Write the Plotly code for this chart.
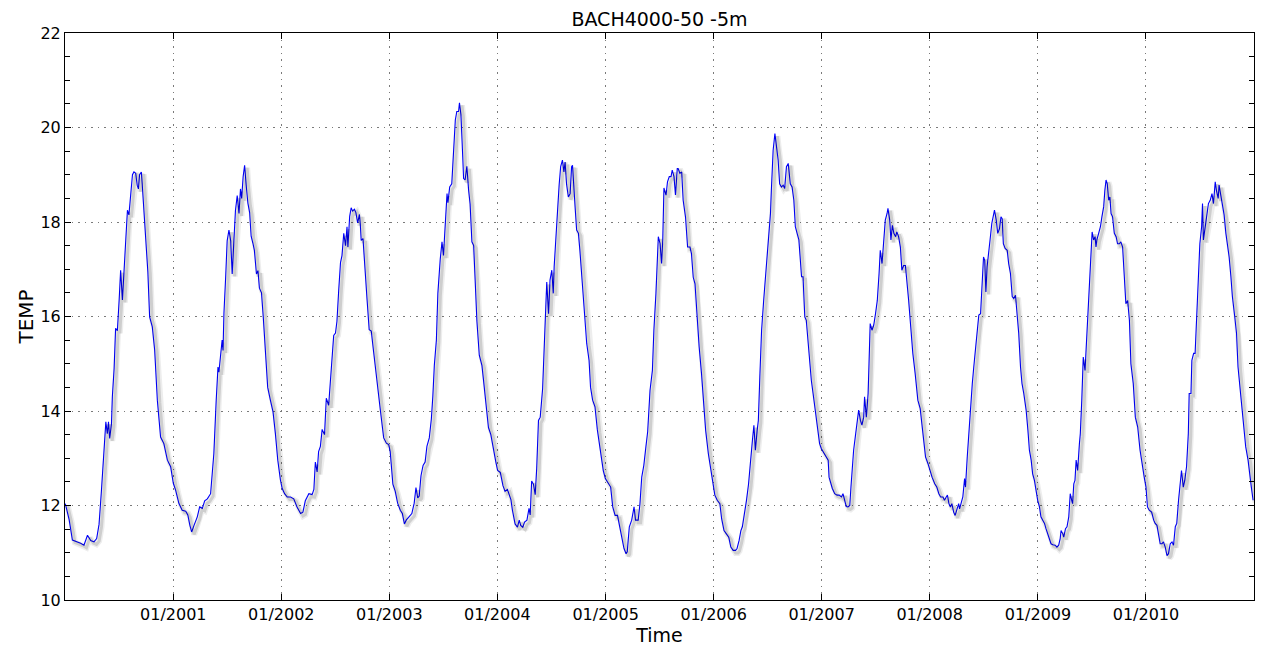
import pandas as pd
import plotly.graph_objects as go

# ---- data (days since 2000-01-01, temperature) ----
day_offset = [
    1, 14, 25, 42, 53, 64, 76, 87, 98, 107, 115, 123, 132, 138, 143, 147, 151, 157, 160, 166,
    171, 177, 183, 188, 194, 199, 205, 211, 216, 222, 228, 233, 239, 244, 248, 252, 258, 261, 267, 273,
    280, 286, 295, 303, 312, 323, 334, 346, 357, 366, 374, 385, 396, 408, 415, 422, 428, 436, 447, 455,
    464, 472, 481, 492, 498, 503, 511, 517, 520, 526, 531, 534, 537, 543, 548, 554, 560, 565, 571, 576,
    582, 588, 593, 597, 602, 607, 612, 618, 624, 629, 635, 640, 647, 652, 657, 664, 670, 678, 685, 694,
    703, 711, 719, 728, 734, 742, 751, 762, 773, 784, 796, 804, 812, 824,
    835, 841, 846, 852, 857, 863, 869, 877, 883, 891, 897, 902, 908, 914, 919, 925, 931, 936, 942, 948,
    953, 956, 962, 967, 972, 978, 983, 989, 995, 998, 1001, 1007, 1015, 1021, 1028, 1035, 1043, 1054, 1066, 1077,
    1086, 1094, 1099, 1108, 1116, 1124, 1133, 1140, 1147, 1153, 1161, 1172, 1180, 1186, 1192, 1197, 1203, 1210, 1217, 1223,
    1231, 1238, 1243, 1248, 1255, 1260, 1268, 1274, 1279, 1285, 1291, 1294, 1300, 1307, 1313, 1319, 1324, 1330, 1333, 1338,
    1343, 1347, 1352, 1358, 1364, 1369, 1375, 1381, 1386, 1392, 1400, 1409, 1414, 1423, 1431, 1439, 1448, 1456, 1462, 1471,
    1480, 1487, 1495, 1501, 1507, 1512, 1521, 1529, 1535, 1540, 1547, 1553, 1561, 1568, 1572, 1577, 1583, 1589, 1594, 1600,
    1606,
    1614, 1622, 1628, 1634, 1639, 1645, 1650, 1653, 1658, 1664, 1670, 1675, 1681, 1686, 1690, 1695, 1701, 1707, 1712, 1715,
    1718, 1724, 1729, 1735, 1740, 1746, 1752, 1757, 1763, 1771, 1776, 1783, 1791, 1799, 1808, 1819, 1826, 1836, 1844, 1851,
    1859, 1867, 1873, 1881, 1889, 1896, 1900, 1907, 1915, 1923, 1928, 1937, 1943, 1949, 1956, 1963, 1969, 1977, 1985, 1990,
    1997, 2005, 2011, 2016, 2020, 2024, 2031, 2036, 2042, 2048, 2052, 2058, 2063, 2069, 2072, 2078, 2084, 2089, 2097, 2104,
    2112, 2117, 2123, 2129, 2134, 2143, 2151, 2157, 2165, 2174, 2182, 2190, 2196, 2204, 2213, 2219, 2227, 2235, 2243, 2250,
    2258, 2266, 2271, 2278, 2284, 2289, 2295, 2303, 2310, 2316, 2323, 2328, 2333, 2339, 2343, 2348, 2354, 2361, 2367, 2374,
    2379, 2384, 2387, 2393, 2399, 2404, 2410, 2415, 2421, 2427, 2432, 2438, 2444,
    2451, 2457, 2463, 2468, 2474, 2480, 2485, 2489, 2494, 2500, 2505, 2511, 2517, 2522, 2528, 2534, 2539, 2545, 2550, 2556,
    2565, 2573, 2579, 2582, 2588, 2593, 2601, 2609, 2616, 2624, 2629, 2635, 2640, 2646, 2652, 2656, 2661, 2665, 2672, 2676,
    2682, 2688, 2693, 2699, 2702, 2708, 2714, 2717, 2721, 2727, 2733, 2739, 2745, 2751, 2755, 2761, 2766, 2772, 2778, 2781,
    2787, 2791, 2796, 2801, 2807, 2811, 2817, 2823, 2828, 2834, 2840, 2845, 2851, 2858, 2865, 2873, 2882, 2890, 2899, 2908,
    2916, 2922, 2930, 2939, 2946, 2953, 2959, 2967, 2972, 2978, 2982, 2987, 2992, 2997, 3003, 3008, 3014, 3020, 3023, 3029,
    3034, 3040, 3043, 3049, 3054, 3060, 3066, 3071, 3077, 3082, 3088, 3094, 3098, 3104, 3108, 3112, 3116, 3122, 3126, 3132,
    3137, 3141, 3147, 3152, 3158, 3163, 3167, 3171, 3177, 3184, 3189, 3195, 3201, 3206, 3212, 3217, 3223, 3229, 3234, 3240,
    3248, 3254,
    3259, 3265, 3270, 3276, 3282, 3287, 3293, 3298, 3304, 3310, 3315, 3321, 3327, 3332, 3338, 3346, 3352, 3358, 3363, 3366,
    3372, 3375, 3381, 3386, 3392, 3397, 3402, 3405, 3409, 3413, 3417, 3422, 3428, 3431, 3436, 3441, 3447, 3450, 3456, 3462,
    3467, 3471, 3476, 3481, 3484, 3487, 3493, 3499, 3504, 3510, 3514, 3518, 3522, 3527, 3531, 3535, 3540, 3546, 3552, 3557,
    3563, 3568, 3574, 3580, 3585, 3591, 3597, 3602, 3610, 3617, 3625, 3633, 3642, 3647, 3653, 3658, 3664, 3672, 3679, 3684,
    3690, 3696, 3701, 3707, 3712, 3718, 3724, 3729, 3735, 3741, 3746, 3752, 3757, 3763, 3769, 3773, 3779, 3784, 3790, 3796,
    3799, 3805, 3808, 3814, 3819, 3824, 3829, 3835, 3841, 3844, 3847, 3853, 3859, 3864, 3870, 3876, 3881, 3887, 3891, 3897,
    3900, 3906, 3912, 3917, 3923, 3929, 3934, 3940, 3945, 3953, 3959, 3964, 3973, 3979, 3985, 3990, 3998, 4004, 4009, 4015,
]

temp = [
    12.04, 11.7, 11.27, 11.23, 11.2, 11.16, 11.37, 11.26, 11.23, 11.3, 11.6, 12.3, 13.17, 13.77, 13.52, 13.77, 13.42, 13.73, 14.3, 14.9,
    15.75, 15.7, 16.35, 16.98, 16.35, 16.9, 17.6, 18.25, 18.15, 18.5, 19.0, 19.06, 19.03, 18.78, 18.7, 19.0, 19.06, 18.8, 18.26, 17.76,
    16.94, 15.99, 15.78, 15.29, 14.23, 13.45, 13.31, 12.96, 12.82, 12.47, 12.32, 12.04, 11.9, 11.88, 11.8, 11.58, 11.44, 11.58, 11.76, 11.97,
    11.94, 12.1, 12.14, 12.25, 12.67, 13.1, 14.23, 14.93, 14.82, 15.2, 15.5, 15.28, 16.06, 16.84, 17.6, 17.83, 17.6, 16.9, 17.53, 18.24,
    18.56, 18.18, 18.7, 18.5, 18.96, 19.2, 18.8, 18.4, 18.2, 17.7, 17.55, 17.4, 16.9, 16.97, 16.6, 16.5, 15.99, 15.2, 14.5, 14.23,
    13.98, 13.52, 12.96, 12.54, 12.36, 12.25, 12.18, 12.18, 12.14, 11.97, 11.83, 11.86, 12.1, 12.25,
    12.23, 12.34, 12.92, 12.71, 13.14, 13.25, 13.61, 13.5, 14.27, 14.12, 14.6, 15.18, 15.6, 15.65, 15.9, 16.56, 17.14, 17.29, 17.76, 17.5,
    17.9, 17.47, 18.12, 18.3, 18.23, 18.27, 18.2, 17.98, 18.16, 17.94, 17.61, 17.65, 17.0, 16.34, 15.72, 15.69, 15.25, 14.6, 14.0, 13.43,
    13.32, 13.29, 13.14, 12.45, 12.3, 12.05, 11.9, 11.83, 11.61, 11.69, 11.76, 11.83, 12.05, 12.38, 12.16, 12.2, 12.63, 12.85, 12.92, 13.25,
    13.43, 13.83, 14.31, 14.96, 15.5, 16.49, 17.21, 17.58, 17.29, 17.94, 18.6, 18.41, 18.74, 18.81, 19.54, 20.16, 20.34, 20.34, 20.52, 20.27,
    19.54, 18.92, 18.89, 19.18, 18.67, 18.38, 17.58, 17.5, 16.78, 15.9, 15.18, 14.96, 14.67, 14.16, 13.65, 13.5, 13.14, 12.92, 12.74, 12.7,
    12.42, 12.3, 12.34, 12.2, 12.12, 11.9, 11.61, 11.54, 11.69, 11.58, 11.54, 11.65, 11.69, 11.94, 11.8, 12.52, 12.45, 12.23, 12.78, 13.8,
    13.87,
    14.47, 15.92, 16.73, 16.06, 16.77, 16.98, 16.49, 17.05, 17.6, 18.3, 18.8, 19.17, 19.31, 19.06, 19.27, 18.8, 18.53, 18.6, 19.17, 19.2,
    18.8, 18.3, 17.83, 17.76, 17.4, 16.9, 16.27, 15.99, 15.43, 15.07, 14.5, 14.23, 14.09, 13.6, 13.24, 12.74, 12.57, 12.46, 12.39, 11.97,
    11.79, 11.79, 11.61, 11.33, 11.09, 10.98, 11.02, 11.55, 11.69, 11.97, 11.69, 11.69, 12.04, 12.6, 12.85, 13.24, 13.56, 14.44, 14.86, 15.71,
    16.49, 17.69, 17.54, 17.12, 17.62, 18.72, 18.57, 18.85, 18.96, 18.96, 19.1, 18.96, 18.57, 19.13, 19.13, 19.03, 19.06, 18.46, 18.1, 17.47,
    17.47, 17.33, 16.83, 16.69, 16.2, 15.36, 14.79, 14.23, 13.59, 13.1, 12.74, 12.46, 12.22, 12.11, 12.04, 11.72, 11.47, 11.4, 11.33, 11.12,
    11.05, 11.05, 11.09, 11.26, 11.47, 11.55, 11.76, 12.11, 12.46, 12.96, 13.38, 13.7, 13.17, 13.59, 13.8, 14.72, 15.71, 16.34, 16.84, 17.54,
    17.97, 18.18, 18.67, 19.52, 19.87, 19.59, 19.31, 18.81, 18.74, 18.78, 18.71, 19.17, 19.24,
    18.81, 18.74, 18.46, 17.9, 17.76, 17.62, 17.19, 16.84, 16.84, 15.99, 15.92, 15.43, 14.93, 14.65, 14.37, 14.09, 13.8, 13.52, 13.31, 13.2,
    13.1, 13.03, 12.96, 12.6, 12.46, 12.36, 12.25, 12.22, 12.22, 12.18, 12.25, 12.11, 11.98, 11.97, 12.0, 12.39, 12.82, 13.17, 13.52, 13.73,
    14.02, 13.8, 13.7, 13.87, 14.3, 13.87, 14.37, 15.0, 15.85, 15.71, 15.82, 16.06, 16.34, 16.91, 17.4, 17.12, 17.62, 18.04, 18.18, 18.29,
    18.04, 17.62, 17.93, 17.76, 17.69, 17.79, 17.69, 17.47, 16.98, 17.08, 17.08, 16.77, 16.34, 15.78, 15.22, 14.79, 14.23, 14.05, 13.59, 13.03,
    12.89, 12.75, 12.6, 12.46, 12.39, 12.25, 12.18, 12.18, 12.11, 12.18, 12.22, 12.04, 11.97, 12.04, 11.86, 11.79, 11.9, 12.04, 11.93, 12.04,
    12.18, 12.57, 12.39, 13.03, 13.52, 14.02, 14.58, 14.93, 15.36, 15.71, 16.03, 16.06, 16.63, 17.26, 17.19, 16.52, 17.05, 17.33, 17.62, 17.97,
    18.11, 18.25, 18.04, 17.76, 17.86, 18.11, 18.07, 17.54, 17.44, 17.4, 17.12, 16.91, 16.42, 16.38, 16.45, 16.13, 15.64, 14.93, 14.58, 14.37,
    14.02, 13.59,
    13.17, 12.96, 12.67, 12.53, 12.25, 12.11, 11.97, 11.76, 11.69, 11.62, 11.51, 11.4, 11.26, 11.19, 11.17, 11.16, 11.12, 11.16, 11.3, 11.47,
    11.4, 11.33, 11.51, 11.55, 11.76, 12.25, 12.11, 12.04, 12.46, 12.53, 12.96, 12.74, 13.31, 13.52, 14.23, 15.14, 14.86, 15.22, 15.99, 16.7,
    17.4, 17.79, 17.62, 17.69, 17.47, 17.62, 17.76, 17.9, 18.11, 18.32, 18.67, 18.89, 18.81, 18.46, 18.53, 18.18, 18.11, 17.76, 17.69, 17.54,
    17.54, 17.58, 17.47, 16.91, 16.27, 16.34, 15.92, 15.0, 14.58, 13.87, 13.66, 13.17, 12.75, 12.6, 12.39, 11.97, 11.9, 11.86, 11.69, 11.62,
    11.58, 11.33, 11.19, 11.19, 11.23, 11.12, 10.94, 10.98, 11.19, 11.23, 11.16, 11.55, 11.62, 12.11, 12.46, 12.74, 12.39, 12.53, 12.82, 13.52,
    14.37, 14.37, 15.07, 15.22, 15.22, 15.99, 16.77, 17.54, 17.9, 18.39, 17.62, 17.9, 18.11, 18.39, 18.46, 18.6, 18.39, 18.85, 18.67, 18.5,
    18.78, 18.53, 18.32, 18.15, 17.76, 17.47, 17.26, 16.84, 16.42, 15.99, 15.64, 14.93, 14.37, 14.02, 13.59, 13.24, 12.96, 12.6, 12.39, 12.11,
]

tick_dates = ["2001-01-01", "2002-01-01", "2003-01-01", "2004-01-01", "2005-01-01",
              "2006-01-01", "2007-01-01", "2008-01-01", "2009-01-01", "2010-01-01"]
tick_labels = ["01/2001", "01/2002", "01/2003", "01/2004", "01/2005",
               "01/2006", "01/2007", "01/2008", "01/2009", "01/2010"]

start = pd.Timestamp("2000-01-01")
end = pd.Timestamp("2011-01-01")
dates = start + pd.to_timedelta(day_offset, unit="D")

# ---- figure (page body has an 8px default margin, so the figure is 8px smaller) ----
W, H = 1258, 642
ml, mr, mt, mb = 57, 12, 25, 50
plot_w = W - ml - mr
plot_h = H - mt - mb
days_per_px = (end - start).days / plot_w
units_per_px = 12.0 / plot_h
sx = pd.Timedelta(days=2.5 * days_per_px)   # shadow offset ~2.5px right
sy = 2.5 * units_per_px                     # shadow offset ~2.5px down

fig = go.Figure()
# drop shadow (same data drawn on slightly shifted overlay axes)
fig.add_trace(go.Scatter(x=dates, y=temp, mode="lines", xaxis="x2", yaxis="y2",
                         line=dict(color="rgba(0,0,0,0.07)", width=6), hoverinfo="skip",
                         showlegend=False))
fig.add_trace(go.Scatter(x=dates, y=temp, mode="lines", xaxis="x2", yaxis="y2",
                         line=dict(color="rgba(0,0,0,0.13)", width=3), hoverinfo="skip",
                         showlegend=False))
fig.add_trace(go.Scatter(x=dates, y=temp, mode="lines",
                         line=dict(color="#0000ff", width=1.1), showlegend=False))

font = "DejaVu Sans, Liberation Sans, sans-serif"
axis_common = dict(showline=True, linecolor="black", linewidth=1, mirror="ticks",
                   ticks="inside", tickcolor="black", ticklen=6, tickwidth=1,
                   showgrid=True, gridcolor="#7a7a7a", griddash="1.5px,5px", gridwidth=1,
                   zeroline=False, automargin=False,
                   tickfont=dict(size=16, color="black", family=font))

fig.update_layout(
    width=W, height=H,
    margin=dict(l=ml, r=mr, t=mt, b=mb),
    paper_bgcolor="white", plot_bgcolor="white",
    font=dict(family=font, color="black"),
    title=dict(text="BACH4000-50 -5m", x=(ml + plot_w / 2) / W, xanchor="center",
               y=1 - 11 / H, yanchor="middle", yref="container",
               font=dict(size=19, color="black", family=font)),
    xaxis=dict(type="date", range=[start, end], tickvals=tick_dates, ticktext=tick_labels,
               title=dict(text="Time", font=dict(size=19, family=font), standoff=3),
               **axis_common),
    yaxis=dict(range=[10, 22], tickvals=[10, 12, 14, 16, 18, 20, 22],
               minor=dict(dtick=0.5, tick0=10, ticks="inside", ticklen=5, tickcolor="black",
                          showgrid=False),
               title=dict(text="TEMP", font=dict(size=20, family=font), standoff=1),
               **axis_common),
    xaxis2=dict(type="date", overlaying="x", range=[start - sx, end - sx], visible=False),
    yaxis2=dict(overlaying="y", range=[10 + sy, 22 + sy], visible=False),
)

fig.write_html("out.html")
